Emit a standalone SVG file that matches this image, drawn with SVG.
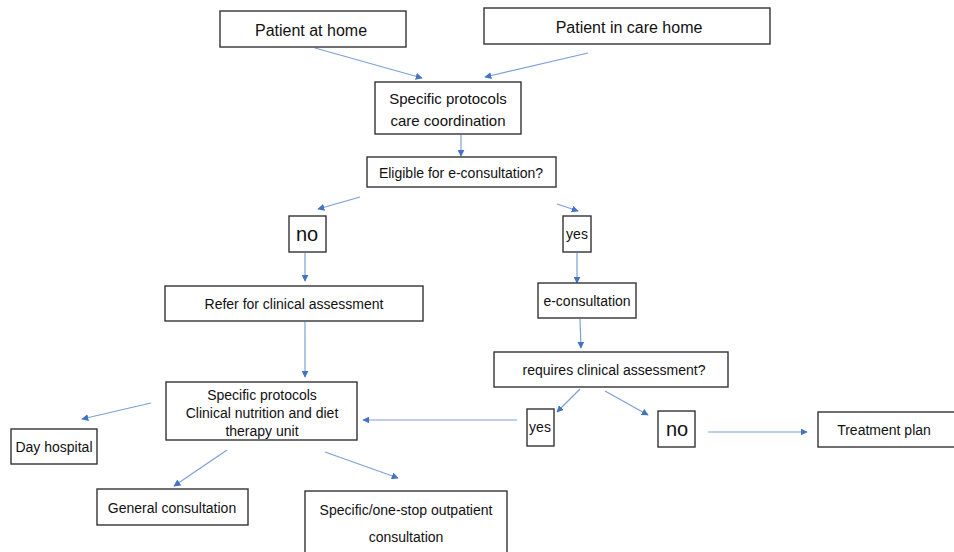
<svg xmlns="http://www.w3.org/2000/svg" width="954" height="552" viewBox="0 0 954 552">
<defs>
<marker id="ah" viewBox="0 0 10 10" refX="9" refY="5" markerWidth="7" markerHeight="7" markerUnits="userSpaceOnUse" orient="auto">
<path d="M0,0 L10,5 L0,10 Z" fill="#4472c4"/>
</marker>
</defs>
<style>
.box{fill:#fff;stroke:#333;stroke-width:1.4}
.t{font-family:"Liberation Sans",Arial,sans-serif;font-size:14px;fill:#111;text-anchor:middle}
.tl{font-size:16px}
.tm{font-size:15px}
.tb{font-size:20px}
.c{stroke:#7e9fd8;stroke-width:1.2;fill:none;marker-end:url(#ah)}
</style>
<rect width="954" height="552" fill="#fff"/>
<g id="connectors">
<line class="c" x1="315" y1="48" x2="422" y2="78"/>
<line class="c" x1="588" y1="53" x2="485" y2="77"/>
<line class="c" x1="461" y1="135" x2="461" y2="156"/>
<line class="c" x1="360" y1="197" x2="318" y2="209"/>
<line class="c" x1="557" y1="204" x2="578" y2="211"/>
<line class="c" x1="305" y1="253" x2="305" y2="281"/>
<line class="c" x1="577" y1="253" x2="577" y2="283"/>
<line class="c" x1="580" y1="319" x2="581" y2="348"/>
<line class="c" x1="305" y1="322" x2="305" y2="377"/>
<line class="c" x1="580" y1="389" x2="557" y2="412"/>
<line class="c" x1="605" y1="391" x2="648" y2="415"/>
<line class="c" x1="517" y1="420" x2="363" y2="420"/>
<line class="c" x1="708" y1="432" x2="807" y2="432"/>
<line class="c" x1="151" y1="403" x2="82" y2="419"/>
<line class="c" x1="227" y1="450" x2="174" y2="486"/>
<line class="c" x1="325" y1="452" x2="398" y2="478"/>
</g>
<g id="patient-home"><rect class="box" x="220" y="11" width="186" height="36"/><text class="t tl" x="311" y="36">Patient at home</text></g>
<g id="patient-care-home"><rect class="box" x="484" y="8" width="286" height="36"/><text class="t tl" x="629" y="33">Patient in care home</text></g>
<g id="care-coordination"><rect class="box" x="375" y="82" width="146" height="52"/><text class="t tm" x="448" y="104">Specific protocols</text><text class="t tm" x="448" y="126">care coordination</text></g>
<g id="eligible"><rect class="box" x="367" y="157" width="189" height="30"/><text class="t" x="461" y="178">Eligible for e-consultation?</text></g>
<g id="no1"><rect class="box" x="289" y="216" width="37" height="36"/><text class="t tb" x="307" y="241">no</text></g>
<g id="yes1"><rect class="box" x="563" y="216" width="28" height="36"/><text class="t" x="577" y="239">yes</text></g>
<g id="refer"><rect class="box" x="165" y="286" width="258" height="35"/><text class="t" x="294" y="309">Refer for clinical assessment</text></g>
<g id="e-consultation"><rect class="box" x="538" y="283" width="98" height="35"/><text class="t" x="587" y="306">e-consultation</text></g>
<g id="requires"><rect class="box" x="494" y="352" width="234" height="35"/><text class="t" x="614" y="375">requires clinical assessment?</text></g>
<g id="nutrition-unit"><rect class="box" x="166" y="382" width="191" height="58"/><text class="t" x="262" y="400">Specific protocols</text><text class="t" x="262" y="418">Clinical nutrition and diet</text><text class="t" x="262" y="436">therapy unit</text></g>
<g id="yes2"><rect class="box" x="527" y="409" width="27" height="37"/><text class="t" x="540" y="432">yes</text></g>
<g id="no2"><rect class="box" x="658" y="411" width="37" height="36"/><text class="t tb" x="677" y="436">no</text></g>
<g id="treatment-plan"><rect class="box" x="818" y="412" width="140" height="35"/><text class="t" x="884" y="435">Treatment plan</text></g>
<g id="day-hospital"><rect class="box" x="11" y="429" width="86" height="35"/><text class="t" x="54" y="452">Day hospital</text></g>
<g id="general-consultation"><rect class="box" x="97" y="489" width="151" height="36"/><text class="t" x="172" y="513">General consultation</text></g>
<g id="one-stop"><rect class="box" x="305" y="491" width="202" height="64"/><text class="t" x="406" y="515">Specific/one-stop outpatient</text><text class="t" x="406" y="542">consultation</text></g>
</svg>
